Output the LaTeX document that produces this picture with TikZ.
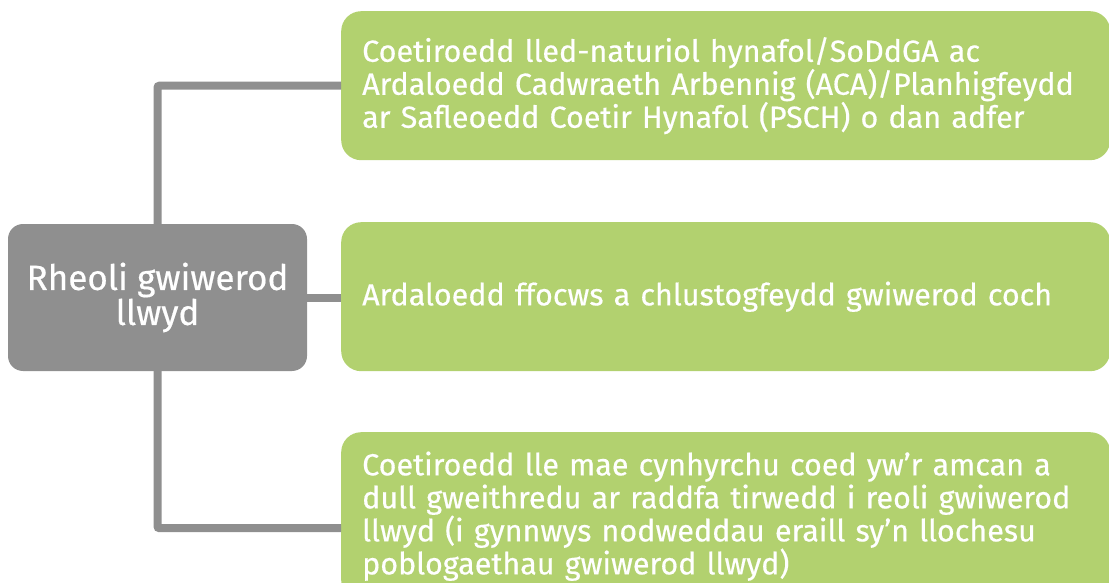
\documentclass[tikz,border=0pt]{standalone}
\usepackage{fontspec}
\setmainfont{Fira Sans}[FakeBold=0.5]
\usetikzlibrary{positioning}

\definecolor{leafgreen}{HTML}{B2D16F}
\definecolor{squirrelgrey}{HTML}{8F8F8F}

\tikzset{
  topic/.style={fill=squirrelgrey,rounded corners=15pt,minimum width=299pt,minimum height=147pt,
    text=white,align=center,inner sep=0pt,font=\fontsize{35}{35}\selectfont},
  branch/.style={fill=leafgreen,rounded corners=20pt,text width=727pt,inner xsep=21pt,inner ysep=0pt,
    minimum height=149pt,text=white,align=left,anchor=north west,font=\fontsize{30.5}{33}\selectfont},
  link/.style={draw=squirrelgrey,line width=8pt,rounded corners=2pt}
}

\begin{document}
\begin{tikzpicture}
  \useasboundingbox (0,0) rectangle (1109pt,-583pt);
  \node[topic] (grey) at (157.5pt,-297.5pt) {Rheoli gwiwerod\\llwyd};
  \node[branch] (top) at (341pt,-11pt) {Coetiroedd lled-naturiol hynafol/SoDdGA ac\\Ardaloedd Cadwraeth Arbennig (ACA)/Planhigfeydd\\ar Safleoedd Coetir Hynafol (PSCH) o dan adfer};
  \node[branch] (mid) at (341pt,-222pt) {Ardaloedd ffocws a chlustogfeydd gwiwerod coch};
  \node[branch,minimum height=168pt] (low) at (341pt,-432pt) {Coetiroedd lle mae cynhyrchu coed yw’r amcan a\\dull gweithredu ar raddfa tirwedd i reoli gwiwerod\\llwyd (i gynnwys nodweddau eraill sy’n llochesu\\poblogaethau gwiwerod llwyd)};
  \draw[link] (grey.north) |- (top.west);
  \draw[link] (grey.east) -- (grey.east -| mid.west);
  \draw[link] (grey.south) |- ([yshift=-12pt]low.west);
\end{tikzpicture}
\end{document}
